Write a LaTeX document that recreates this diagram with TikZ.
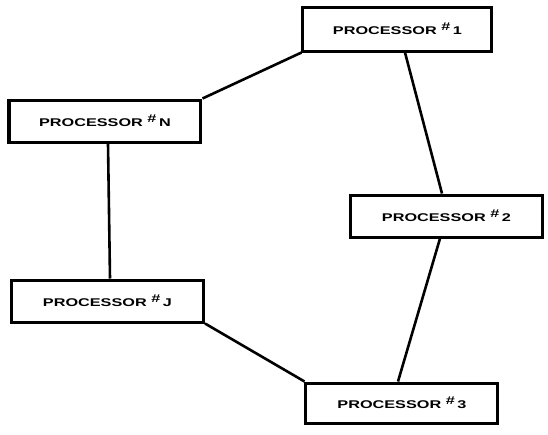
\documentclass[tikz,border=0pt]{standalone}
\usepackage{graphicx}
\usepackage{fontspec}
\setmainfont{Liberation Sans}
\usepackage{tikz}
\usetikzlibrary{positioning}

\newcommand{\proclabel}[1]{\scalebox{1.45}[1]{\bfseries PROCESSOR~\raisebox{0.6ex}{\#}\,#1}}

\begin{document}
\begin{tikzpicture}[
    x=0.5pt, y=-0.5pt,
    proc/.style={draw, line width=1.5pt, minimum height=21pt, minimum width=96pt, inner sep=0pt, font=\fontsize{5.6}{6}\selectfont},
    link/.style={line width=1.3pt},
]
\useasboundingbox (0,0) rectangle (548,435);

\node[proc, minimum width=94.5pt, minimum height=22pt] (p1) at (397.5,29) {\proclabel{1}};
\node[proc] (pn) at (105,121) {\proclabel{N}};
\node[proc] (p2) at (446.5,216) {\proclabel{2}};
\node[proc] (pj) at (107.5,301) {\proclabel{J}};
\node[proc, minimum height=20pt] (p3) at (402,403) {\proclabel{3}};

\draw[link] (pn.north east) -- (p1.south west);
\draw[link] ([xshift=3.75pt]p1.south) -- ([xshift=-2.25pt]p2.north);
\draw[link] ([xshift=-3.25pt]p2.south) -- ([xshift=-2pt]p3.north);
\draw[link] ([xshift=1.5pt]pn.south) -- ([xshift=1.25pt]pj.north);
\draw[link] (pj.south east) -- (p3.north west);
\end{tikzpicture}
\end{document}
